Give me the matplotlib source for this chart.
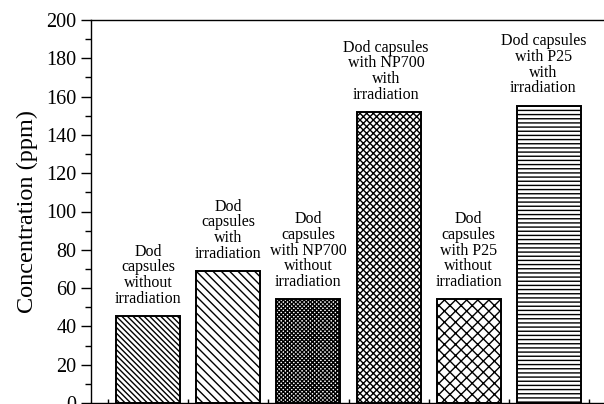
import matplotlib
matplotlib.use("Agg")
import matplotlib.pyplot as plt

labels = [
    "Dod\ncapsules\nwithout\nirradiation",
    "Dod\ncapsules\nwith\nirradiation",
    "Dod\ncapsules\nwith NP700\nwithout\nirradiation",
    "Dod capsules\nwith NP700\nwith\nirradiation",
    "Dod\ncapsules\nwith P25\nwithout\nirradiation",
    "Dod capsules\nwith P25\nwith\nirradiation",
]
values = [45.5, 69, 54.3, 152, 54.3, 155.3]
yticks = [0, 20, 40, 60, 80, 100, 120, 140, 160, 180, 200]

# styling
hatches = ["\\" * 6, "\\" * 4, "x" * 8, "x" * 5, "x" * 3, "----"]
label_dx = [0, 0, 0, -0.03, 0, -0.07]

plt.rcParams["font.family"] = ["Liberation Serif", "DejaVu Serif"]
plt.rcParams["hatch.linewidth"] = 1.0

fig = plt.figure(figsize=(6.04, 4.04), dpi=100)
W, H = 604, 404
left_px, top_px, bottom_px = 91, 20, 403
ax = fig.add_axes([left_px / W, (H - bottom_px) / H, 1 - left_px / W, (bottom_px - top_px) / H])

x = list(range(len(values)))
bars = ax.bar(x, values, width=0.8, color="white", edgecolor="black", linewidth=1.4)
for b, h in zip(bars, hatches):
    b.set_hatch(h)

for xi, v, lab, dx in zip(x, values, labels, label_dx):
    ax.text(xi + dx, v + 4.8, lab, ha="center", va="bottom", multialignment="center",
            fontsize=11.5, linespacing=0.97)

ax.set_xlim(-0.711, 5.686)
ax.set_ylim(0, 200)
ax.set_yticks(yticks)
ax.set_yticks(range(0, 201, 10), minor=True)
ax.tick_params(axis="y", which="major", direction="out", length=7, width=1, labelsize=14.5)
ax.tick_params(axis="y", which="minor", direction="out", length=4, width=1)
ax.set_xticks([i - 0.5 for i in range(len(values) + 1)])
ax.set_xticklabels([])
ax.tick_params(axis="x", which="major", direction="in", length=3, width=1)
ax.spines["right"].set_visible(False)
for s in ["left", "top", "bottom"]:
    ax.spines[s].set_linewidth(1)
ax.set_ylabel("Concentration (ppm)", fontsize=17.5, labelpad=6)

fig.savefig("out.png", dpi=100)
